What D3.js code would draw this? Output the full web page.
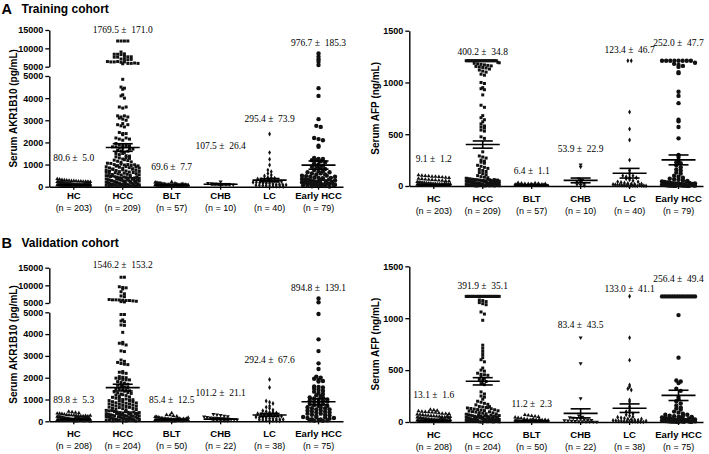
<!DOCTYPE html>
<html><head><meta charset="utf-8">
<script src="https://cdn.jsdelivr.net/npm/d3@7"></script>
<style>body{margin:0;background:#fff}svg{display:block}</style>
</head><body><svg id="chart" width="709" height="454"></svg>
<script>
// ---------------- DATA ----------------
const categories = ["HC", "HCC", "BLT", "CHB", "LC", "Early HCC"];
const nTraining = [203, 209, 57, 10, 40, 79];
const nValidation = [208, 204, 50, 22, 38, 75];
const akrTicksLower = [0, 1000, 2000, 3000, 4000, 5000];
const akrTicksUpper = [5000, 10000, 15000];
const afpTicks = [0, 500, 1000, 1500];

const trAkrMean = [80.6, 1769.5, 69.6, 107.5, 295.4, 976.7];
const trAkrSem = [5.0, 171.0, 7.7, 26.4, 73.9, 185.3];
const trAfpMean = [9.1, 400.2, 6.4, 53.9, 123.4, 252.0];
const trAfpSem = [1.2, 34.8, 1.1, 22.9, 46.7, 47.7];
const vaAkrMean = [89.8, 1546.2, 85.4, 101.2, 292.4, 894.8];
const vaAkrSem = [5.3, 153.2, 12.5, 21.1, 67.6, 139.1];
const vaAfpMean = [13.1, 391.9, 11.2, 83.4, 133.0, 256.4];
const vaAfpSem = [1.6, 35.1, 2.3, 43.5, 41.1, 49.4];

// Training AKR1B10 (pg/mL)
const trAkrHC = [350,330,310,300,290,280,270,260,250,245,240,235,230,225,220,215,210,205,200,195,190,185,180,175,170,165,160,155,150,145,140,135,130,125,120,115,110,105,100,100,95,95,90,90,85,85,80,80,75,75,70,70,65,65,60,60,55,55,50,50,45,45,40,40,35,35,30,30,25,25,20,20,15,15,10,10,5,5,60,70,80,90,40,50,30,20,110,130,150,170,190,210,120,140,100];
const trAkrHCC = [12000,12000,12000,12000,9000,8500,8400,8400,8300,7800,7700,7700,7600,7600,7100,7000,6900,7000,6400,6300,6300,6400,6200,6300,5900,5900,6000,5800,5900,
4850,4500,4450,4400,4150,4100,4000,3600,3550,3600,3200,3150,3200,3100,3050,3000,3150,2850,2800,2750,2700,2800,2450,2400,2350,2400,2200,2150,2100,2200,2150,1950,1900,1850,1800,1800,1750,1900,1850,1750,1800,1700,1650,1600,1550,1500,1450,1700,1600,1500,
1400,1350,1300,1250,1200,1150,1100,1380,1320,1280,1220,1180,1120,1060,1050,1000,950,900,850,800,750,700,650,600,550,500,1020,980,930,880,830,780,730,680,630,580,530,480,1000,960,910,860,810,760,710,660,610,560,510,460,990,940,890,840,790,740,690,640,590,540,490,
450,420,400,380,350,320,300,280,250,220,200,180,150,120,100,80,60,40,20,440,410,390,360,340,310,290,260,240,210,190,160,140,110,90,70,50,30,10,430,370,330,270,230,170,130,95,75,55,35,15,400,350,300,250,200,150,100,50,450,380,320,260,210,170,130,85,45,25];
const trAkrBLT = [220,200,180,170,160,150,140,130,120,110,100,95,90,85,80,75,70,65,60,55,50,45,40,35,30,25,20,15,10,5,150,120,100,80,60,40,20,10,90,70,50,30,110,130,60,40,20,80,100,45,35,25,65,55,75,85,15];
const trAkrCHB = [230,160,150,140,130,120,110,100,90,70];
const trAkrLC = [2380,1540,1240,980,750,680,600,530,480,420,400,380,350,330,300,300,280,260,250,230,200,200,180,160,150,140,120,100,100,90,80,70,60,50,40,30,25,20,15,10];
const trAkrEarly = [8600,7700,7000,6350,5450,4450,4100,3050,2750,2700,2200,2150,2100,1800,1850,
1300,1250,1250,1200,1200,1150,1100,1050,1000,950,900,900,850,800,750,700,650,600,550,500,480,450,420,400,380,350,330,300,280,250,230,200,180,150,130,100,80,60,40,20,
700,600,500,400,300,200,100,50,350,250,150,450,550,650,320,220,120,60,30,10,280,180,90,70];

// Training AFP (ng/mL)
const trAfpHC = [105,100,98,95,92,90,88,85,82,80,72,70,65,62,60,58,55,52,50,48,40,38,35,32,30,28,26,25,24,22,20,19,18,17,16,15,14,13,12,11,10,9,8,7,6,5,4,3,2,1,25,22,18,14,11,8,6,4,3,2,1,20,15,10,5,12,9,7,3,1,0.5];
const trAfpHCC = [1210,1210,1210,1210,1210,1210,1210,1210,1210,1210,1210,1210,1210,1210,1210,1210,1210,1210,1210,1210,1210,1210,
1195,1190,1185,1180,1175,1170,1165,1160,1155,1150,1145,1140,1130,1120,1110,1100,1080,1070,
1000,990,950,940,930,880,780,760,680,660,640,620,600,580,570,560,540,530,475,460,
330,290,280,270,250,240,230,220,200,190,180,170,160,150,140,130,120,110,100,90,85,80,75,
70,68,66,64,62,60,58,56,54,52,50,48,46,44,42,40,38,36,34,32,30,28,26,24,22,20,18,16,14,12,10,8,6,4,2,1,
65,60,55,50,45,40,35,30,25,20,15,10,5,3,1,62,52,42,32,22,12,6,2,57,47,37,27,17,9,4,1,45,35,25,15,8,3];
const trAfpBLT = [30,25,22,20,18,15,12,10,9,8,7,6,5,5,4,4,3,3,2,2,1,1,0.5,28,24,16,14,11,9,7,6,4,3,2,1,20,15,10,5,3,2,1,12,8,6,4,2,1,0.5];
const trAfpCHB = [205,185,70,60,45,35,25,15,10,3];
const trAfpLC = [1210,1210,715,550,445,250,150,120,100,90,80,70,60,50,40,35,30,25,20,18,15,12,10,9,8,7,6,5,4,3,2,1,100,80,40,20,10,5,2,1];
const trAfpEarly = [1210,1210,1210,1210,1210,1210,1210,1210,1190,1180,1170,1160,1150,1100,1090,910,870,800,640,625,570,460,300,280,250,230,220,200,180,160,150,130,120,100,90,80,
70,65,60,55,50,45,40,35,30,28,25,22,20,18,15,12,10,8,6,5,4,3,2,1,40,30,20,15,10,8,6,5,4,3,2,1,25,12,9,7,3];

// Validation AKR1B10 (pg/mL)
const vaAkrHC = [450,420,400,380,360,350,340,320,300,290,280,270,260,250,240,230,220,210,200,190,180,170,160,150,140,130,120,110,100,95,90,85,80,75,70,65,60,55,50,45,40,35,30,25,20,15,10,5,250,230,210,190,170,150,130,110,90,70,50,30,10,220,180,140,100,60,20,260,200,160,120,80,40,0];
const vaAkrHCC = [12300,12300,9600,9400,9300,9000,8200,7600,7000,6800,6000,5900,5900,5850,5800,5700,5700,5600,5500,5400,5300,
4900,4900,4650,4600,4570,4420,4400,4080,3620,3580,3550,3500,3230,3200,2810,2750,2700,2650,2620,2600,2280,2250,2220,2200,2050,2020,2000,1980,1950,1920,1900,1900,1820,1780,1750,1700,1650,1600,1580,1550,1500,1480,1450,1440,
1400,1350,1300,1250,1200,1150,1100,1380,1320,1280,1220,1180,1120,1060,1050,1000,950,900,850,800,750,700,650,600,550,500,1020,980,930,880,830,780,730,680,630,580,530,480,990,940,890,840,790,740,690,640,590,540,490,
450,420,400,380,350,320,300,280,250,220,200,180,150,120,100,80,60,40,20,440,410,390,360,340,310,290,260,240,210,190,160,140,110,90,70,50,30,10,430,370,330,270,230,170,130,95,75,55,35,15,400,350,300,250,200,150,100,50];
const vaAkrBLT = [380,300,280,250,230,210,200,180,160,150,140,130,120,110,100,95,90,85,80,75,70,65,60,55,50,45,40,35,30,25,20,15,10,5,150,120,100,80,60,40,20,10,110,90,70,50,30,130,170,60];
const vaAkrCHB = [330,300,280,250,230,210,190,170,160,150,140,130,120,110,100,90,80,70,60,50,40,30];
const vaAkrLC = [1920,1550,930,870,820,700,650,600,520,480,450,420,400,380,350,330,300,300,280,260,250,230,200,180,160,150,130,120,100,90,80,70,60,50,40,30,20,10];
const vaAkrEarly = [6300,5200,4920,3760,3220,2660,2400,2050,2000,1950,1900,1850,1820,1600,1580,1550,1500,1450,1400,1360,
1300,1200,1150,1100,1050,1000,950,900,850,800,750,700,650,600,550,500,450,400,350,300,250,200,150,100,50,
1250,1100,950,800,650,500,350,200,80,30,1000,900,700,600,450,300,180,120,60,20,550,420,280,150,40];

// Validation AFP (ng/mL)
const vaAfpHC = [120,115,110,105,100,98,95,92,90,85,82,80,78,75,72,70,65,62,60,58,55,52,50,48,45,42,40,38,35,32,30,28,26,25,24,22,20,18,16,15,14,13,12,11,10,9,8,7,6,5,4,3,2,1,60,50,40,30,25,20,15,10,5,3,1,45,35,22,12,8,4,2];
const vaAfpHCC = [1210,1210,1210,1210,1210,1210,1210,1210,1210,1210,1210,1210,1210,1210,1210,1210,1210,1210,1210,1210,1210,1210,1210,1210,1210,1210,1210,1210,
1175,1170,1160,1150,1140,1130,1060,1040,980,740,710,680,650,620,600,580,520,500,490,470,460,455,450,440,420,410,400,390,370,360,290,270,250,240,220,200,190,180,170,165,
150,145,140,135,130,125,120,115,110,105,100,95,90,85,80,75,70,65,60,55,50,45,40,35,30,25,20,15,10,5,148,138,128,118,108,98,88,78,68,58,48,38,28,18,8,
60,55,50,45,40,35,30,25,20,15,10,5,2,1,65,52,42,32,22,12,6,3,58,48,36,26,16,9,4,1,62,44,33,24,14,7,2];
const vaAfpBLT = [70,65,60,55,50,45,40,35,30,25,20,15,12,10,8,6,5,4,3,2,1,30,20,10,5,3,1,25,15,8,4,2,18,12,6,3,1,22,14,9,7,2,16,11,5,1,0.5];
const vaAfpCHB = [812,565,228,60,50,45,40,35,30,25,20,18,15,12,10,8,6,5,4,3,2,1];
const vaAfpLC = [1212,811,596,356,340,320,308,212,195,147,110,100,90,80,70,60,50,45,40,35,30,25,20,18,15,12,10,9,8,7,6,5,4,3,2,1,30,10];
const vaAfpEarly = [1210,1210,1210,1210,1210,1210,1210,1210,1210,1210,1210,1210,1210,1210,1030,620,400,390,375,320,300,240,220,200,180,160,140,130,120,
100,90,80,70,60,55,50,45,40,35,30,25,20,15,12,10,8,6,5,4,3,2,1,60,45,30,20,10,5,2,70,50,35,15,8,3,1,40,25,12,6];

// ---------------- LAYOUT ----------------
const SANS = "'Liberation Sans', Arial, Helvetica, sans-serif";
const SERIF = "'Liberation Serif', 'Times New Roman', serif";

const panels = [
  { kind: "akr", x0: 49.3, x1: 343, upTop: 30, upBot: 66.7, loTop: 76, base: 186.7,
    values: [trAkrHC, trAkrHCC, trAkrBLT, trAkrCHB, trAkrLC, trAkrEarly],
    means: trAkrMean, sems: trAkrSem, n: nTraining, title: "Serum AKR1B10 (pg/mL)", titleX: 16.5,
    labelRise: [28.7, 157.4, 20, 40.7, 68.4, 144], catDy: 9, nDy: 21.3 },
  { kind: "afp", x0: 409.3, x1: 703, top: 30.7, base: 186,
    values: [trAfpHC, trAfpHCC, trAfpBLT, trAfpCHB, trAfpLC, trAfpEarly],
    means: trAfpMean, sems: trAfpSem, n: nTraining, title: "Serum AFP (ng/mL)", titleX: 378.5,
    labelRise: [27.7, 134.3, 15, 37.7, 136, 143.3], catDy: 12.3, nDy: 24.7 },
  { kind: "akr", x0: 49.3, x1: 343, upTop: 267.7, upBot: 303, loTop: 312.3, base: 421.3,
    values: [vaAkrHC, vaAkrHCC, vaAkrBLT, vaAkrCHB, vaAkrLC, vaAkrEarly],
    means: vaAkrMean, sems: vaAkrSem, n: nValidation, title: "Serum AKR1B10 (pg/mL)", titleX: 16.8,
    labelRise: [22, 156.3, 22, 29, 61.3, 133.6], catDy: 12, nDy: 24.4 },
  { kind: "afp", x0: 409.3, x1: 703, top: 266.3, base: 422,
    values: [vaAfpHC, vaAfpHCC, vaAfpBLT, vaAfpCHB, vaAfpLC, vaAfpEarly],
    means: vaAfpMean, sems: vaAfpSem, n: nValidation, title: "Serum AFP (ng/mL)", titleX: 378.5,
    labelRise: [27.7, 136, 18, 97, 133.7, 143.7], catDy: 13, nDy: 24.7 }
];

const headers = [
  { letter: "A", text: "Training cohort", y: 13.5 },
  { letter: "B", text: "Validation cohort", y: 247.5 }
];

const markerType = [d3.symbolTriangle, d3.symbolSquare, d3.symbolTriangle, d3.symbolTriangle, d3.symbolDiamond, d3.symbolCircle];
const markerSize = [7, 9, 7, 7, 7, 15];
const markerRot = [0, 0, 0, 180, 0, 0];
const markerStep = [3.4, 3.4, 3.4, 3.6, 3.4, 4.4];
const ROW_H = 3.2, MAX_W = 33, MEAN_W = 34, CAP_W = 20;

const svg = d3.select("#chart");

headers.forEach(h => {
  svg.append("text").attr("x", 1.5).attr("y", h.y).attr("font-family", SANS)
    .attr("font-weight", "bold").attr("font-size", 14.5).text(h.letter);
  svg.append("text").attr("x", 21.5).attr("y", h.y - 1).attr("font-family", SANS)
    .attr("font-weight", "bold").attr("font-size", 12).text(h.text);
});

function styleAxis(sel) {
  sel.select(".domain").attr("stroke", "#000").attr("stroke-width", 1.4);
  sel.selectAll(".tick line").attr("stroke", "#000").attr("stroke-width", 1.3);
  sel.selectAll(".tick text").attr("font-family", SANS).attr("font-weight", "bold")
    .attr("font-size", 9).attr("fill", "#000");
}

panels.forEach(p => {
  const g = svg.append("g");
  const x = d3.scaleBand().domain(categories).range([p.x0, p.x1]);
  const cx = c => x(c) + x.bandwidth() / 2;
  let yOf, axisMid;

  if (p.kind === "akr") {
    const yLo = d3.scaleLinear().domain([0, 5000]).range([p.base, p.loTop]);
    const yUp = d3.scaleLinear().domain([5000, 15000]).range([p.upBot, p.upTop]);
    yOf = v => (v > 5000 ? yUp(v) : yLo(v));
    g.append("g").attr("transform", `translate(${p.x0},0)`)
      .call(d3.axisLeft(yUp).tickValues(akrTicksUpper).tickSize(4).tickSizeOuter(0).tickPadding(2).tickFormat(d3.format("d")))
      .call(styleAxis);
    g.append("g").attr("transform", `translate(${p.x0},0)`)
      .call(d3.axisLeft(yLo).tickValues(akrTicksLower).tickSize(4).tickSizeOuter(0).tickPadding(2).tickFormat(d3.format("d")))
      .call(styleAxis);
    axisMid = (p.upTop + p.base) / 2;
  } else {
    const y = d3.scaleLinear().domain([0, 1500]).range([p.base, p.top]);
    yOf = v => y(v);
    g.append("g").attr("transform", `translate(${p.x0},0)`)
      .call(d3.axisLeft(y).tickValues(afpTicks).tickSize(4).tickSizeOuter(0).tickPadding(2).tickFormat(d3.format("d")))
      .call(styleAxis);
    axisMid = (p.top + p.base) / 2;
  }

  // x axis
  const xa = g.append("g").attr("transform", `translate(0,${p.base})`)
    .call(d3.axisBottom(x).tickSize(3).tickSizeOuter(0).tickFormat(""))
    .call(styleAxis);

  categories.forEach((c, i) => {
    g.append("text").attr("x", cx(c)).attr("y", p.base + p.catDy).attr("dy", "0.35em")
      .attr("text-anchor", "middle").attr("font-family", SANS).attr("font-weight", "bold")
      .attr("font-size", 9.5).text(c);
    g.append("text").attr("x", cx(c)).attr("y", p.base + p.nDy).attr("dy", "0.35em")
      .attr("text-anchor", "middle").attr("font-family", SANS)
      .attr("font-size", 9).text(`(n = ${p.n[i]})`);
  });

  // y title
  g.append("text").attr("transform", `translate(${p.titleX},${axisMid}) rotate(-90)`)
    .attr("text-anchor", "middle").attr("font-family", SANS).attr("font-weight", "bold")
    .attr("font-size", 10).text(p.title);

  // points
  p.values.forEach((vals, i) => {
    const c = categories[i];
    const pts = vals.map(v => ({ v, py: yOf(v) }));
    const rows = d3.group(pts, d => Math.round((p.base - d.py) / ROW_H));
    rows.forEach(row => {
      const n = row.length;
      const sp = n > 1 ? Math.min(markerStep[i], MAX_W / (n - 1)) : 0;
      row.forEach((d, j) => { d.px = cx(c) + (j - (n - 1) / 2) * sp; });
    });
    const sym = d3.symbol().type(markerType[i]).size(markerSize[i]);
    g.append("g").selectAll("path").data(pts).join("path")
      .attr("d", sym)
      .attr("transform", d => `translate(${d.px},${d.py}) rotate(${markerRot[i]})`)
      .attr("fill", "#111");

    // mean ± SEM
    const m = p.means[i], s = p.sems[i], xc = cx(c);
    const lines = [
      [xc - MEAN_W / 2, yOf(m), xc + MEAN_W / 2, yOf(m)],
      [xc - CAP_W / 2, yOf(m + s), xc + CAP_W / 2, yOf(m + s)],
      [xc - CAP_W / 2, yOf(m - s), xc + CAP_W / 2, yOf(m - s)],
      [xc, yOf(m + s), xc, yOf(m - s)]
    ];
    g.append("g").selectAll("line").data(lines).join("line")
      .attr("x1", d => d[0]).attr("y1", d => d[1]).attr("x2", d => d[2]).attr("y2", d => d[3])
      .attr("stroke", "#000").attr("stroke-width", 1.6);

    g.append("text").attr("x", xc).attr("y", p.base - p.labelRise[i]).attr("dy", "0.35em")
      .attr("text-anchor", "middle").attr("font-family", SERIF).attr("font-size", 9.5)
      .text(`${m.toFixed(1)} \u00b1\u00a0 ${s.toFixed(1)}`);
  });
});
</script>
</body></html>
